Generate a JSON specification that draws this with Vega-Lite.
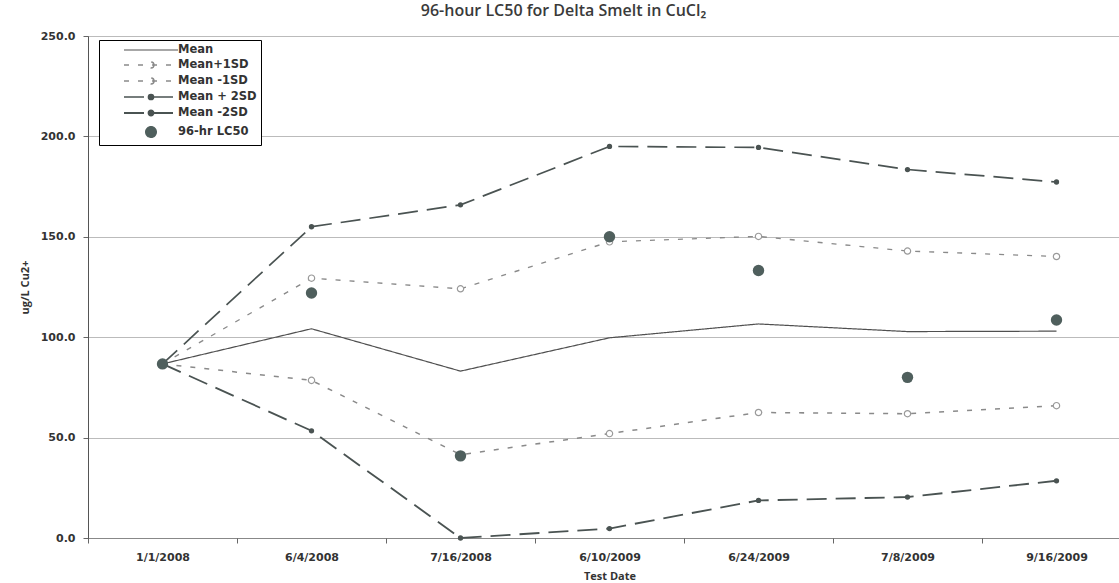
{
  "$schema": "https://vega.github.io/schema/vega-lite/v6.json",
  "width": 1043,
  "height": 502,
  "autosize": "none",
  "padding": {"left": 88, "top": 36, "right": 0, "bottom": 45},
  "background": "white",
  "title": {
    "text": "96-hour LC50 for Delta Smelt in CuCl₂",
    "font": "Open Sans",
    "fontSize": 16,
    "fontWeight": 600,
    "color": "#3a3a3a",
    "anchor": "middle",
    "dx": -46,
    "offset": 11
  },
  "config": {
    "view": {"stroke": null},
    "axis": {"labelColor": "#333", "titleColor": "#333"}
  },
  "data": {
    "values": [
      {"date": "1/1/2008", "series": "Mean", "value": 86.7},
      {"date": "6/4/2008", "series": "Mean", "value": 104.2},
      {"date": "7/16/2008", "series": "Mean", "value": 83.1},
      {"date": "6/10/2009", "series": "Mean", "value": 99.7},
      {"date": "6/24/2009", "series": "Mean", "value": 106.6},
      {"date": "7/8/2009", "series": "Mean", "value": 102.8},
      {"date": "9/16/2009", "series": "Mean", "value": 103.0},
      {"date": "1/1/2008", "series": "Mean+1SD", "value": 86.7},
      {"date": "6/4/2008", "series": "Mean+1SD", "value": 129.4},
      {"date": "7/16/2008", "series": "Mean+1SD", "value": 124.1},
      {"date": "6/10/2009", "series": "Mean+1SD", "value": 147.5},
      {"date": "6/24/2009", "series": "Mean+1SD", "value": 150.2},
      {"date": "7/8/2009", "series": "Mean+1SD", "value": 142.9},
      {"date": "9/16/2009", "series": "Mean+1SD", "value": 140.2},
      {"date": "1/1/2008", "series": "Mean -1SD", "value": 86.7},
      {"date": "6/4/2008", "series": "Mean -1SD", "value": 78.5},
      {"date": "7/16/2008", "series": "Mean -1SD", "value": 41.5},
      {"date": "6/10/2009", "series": "Mean -1SD", "value": 52.0},
      {"date": "6/24/2009", "series": "Mean -1SD", "value": 62.5},
      {"date": "7/8/2009", "series": "Mean -1SD", "value": 61.9},
      {"date": "9/16/2009", "series": "Mean -1SD", "value": 65.9},
      {"date": "1/1/2008", "series": "Mean + 2SD", "value": 86.7},
      {"date": "6/4/2008", "series": "Mean + 2SD", "value": 155.0},
      {"date": "7/16/2008", "series": "Mean + 2SD", "value": 165.9},
      {"date": "6/10/2009", "series": "Mean + 2SD", "value": 195.0},
      {"date": "6/24/2009", "series": "Mean + 2SD", "value": 194.5},
      {"date": "7/8/2009", "series": "Mean + 2SD", "value": 183.5},
      {"date": "9/16/2009", "series": "Mean + 2SD", "value": 177.3},
      {"date": "1/1/2008", "series": "Mean -2SD", "value": 86.7},
      {"date": "6/4/2008", "series": "Mean -2SD", "value": 53.4},
      {"date": "7/16/2008", "series": "Mean -2SD", "value": 0.0},
      {"date": "6/10/2009", "series": "Mean -2SD", "value": 4.7},
      {"date": "6/24/2009", "series": "Mean -2SD", "value": 18.7},
      {"date": "7/8/2009", "series": "Mean -2SD", "value": 20.4},
      {"date": "9/16/2009", "series": "Mean -2SD", "value": 28.5},
      {"date": "1/1/2008", "series": "96-hr LC50", "value": 86.7},
      {"date": "6/4/2008", "series": "96-hr LC50", "value": 122.0},
      {"date": "7/16/2008", "series": "96-hr LC50", "value": 40.9},
      {"date": "6/10/2009", "series": "96-hr LC50", "value": 150.0},
      {"date": "6/24/2009", "series": "96-hr LC50", "value": 133.2},
      {"date": "7/8/2009", "series": "96-hr LC50", "value": 80.0},
      {"date": "9/16/2009", "series": "96-hr LC50", "value": 108.6}
    ]
  },
  "encoding": {
    "x": {
      "field": "date",
      "type": "nominal",
      "sort": ["1/1/2008", "6/4/2008", "7/16/2008", "6/10/2009", "6/24/2009", "7/8/2009", "9/16/2009"],
      "scale": {"type": "band", "paddingInner": 0, "paddingOuter": 0},
      "axis": {
        "title": "Test Date",
        "titleFont": "Open Sans",
        "titleFontSize": 11,
        "titleFontWeight": "bold",
        "titlePadding": 8,
        "labelAngle": 0,
        "labelFont": "DejaVu Sans",
        "labelFontSize": 11,
        "labelFontWeight": "bold",
        "labelPadding": 8,
        "tickBand": "extent",
        "tickColor": "#666",
        "tickSize": 5,
        "domainColor": "#555",
        "domainDash": [1, 1],
        "grid": false
      }
    },
    "y": {
      "field": "value",
      "type": "quantitative",
      "scale": {"domain": [0, 250], "nice": false, "zero": true},
      "axis": {
        "title": "ug/L Cu2+",
        "titleFont": "Open Sans",
        "titleFontSize": 11,
        "titleFontWeight": "bold",
        "titlePadding": 10,
        "values": [0, 50, 100, 150, 200, 250],
        "format": ".1f",
        "labelFont": "DejaVu Sans",
        "labelFontSize": 11,
        "labelFontWeight": "bold",
        "labelPadding": 8,
        "tickColor": "#666",
        "tickSize": 5,
        "domainColor": "#555",
        "grid": true,
        "gridColor": "#777",
        "gridDash": [1, 1],
        "gridWidth": 1
      }
    }
  },
  "layer": [
    {
      "transform": [{"filter": "datum.series !== '96-hr LC50'"}],
      "mark": {"type": "line"},
      "encoding": {
        "detail": {"field": "series"},
        "color": {
          "field": "series",
          "type": "nominal",
          "scale": {
            "domain": ["Mean", "Mean+1SD", "Mean -1SD", "Mean + 2SD", "Mean -2SD", "96-hr LC50"],
            "range": ["#505050", "#8a8a8a", "#8a8a8a", "#4a5352", "#4a5352", "#4f5f5d"]
          },
          "legend": {
            "title": null,
            "orient": "none",
            "legendX": 11,
            "legendY": 4,
            "strokeColor": "black",
            "fillColor": "white",
            "padding": 4,
            "symbolOffset": 42,
            "symbolSize": 100,
            "labelFont": "DejaVu Sans",
            "labelFontSize": 11.5,
            "labelFontWeight": "bold",
            "labelColor": "#333",
            "labelOffset": 21,
            "rowPadding": 3,
            "encode": {
              "symbols": {
                "update": {
                  "shape": {"signal": "datum.label === '96-hr LC50' ? 'circle' : (datum.label === 'Mean' ? 'M-5.4,0H5.4' : (indexof(datum.label, '1SD') >= 0 ? 'M-5.4,0H5.4M0.6,0A0.6,0.6,0,1,1,-0.6,0A0.6,0.6,0,1,1,0.6,0' : 'M-5.4,0H5.4M0.5,0A0.5,0.5,0,1,1,-0.5,0A0.5,0.5,0,1,1,0.5,0'))"},
                  "size": {"value": 100},
                  "fill": {"signal": "datum.label === '96-hr LC50' ? '#4f5f5d' : (datum.label === 'Mean' ? 'transparent' : (indexof(datum.label, '1SD') >= 0 ? 'white' : '#4a5352'))"},
                  "strokeWidth": {"signal": "datum.label === '96-hr LC50' ? 0 : (datum.label === 'Mean' ? 1.2 : (indexof(datum.label, '2SD') >= 0 ? 2.8 : 2))"}
                }
              }
            }
          }
        },
        "strokeDash": {
          "field": "series",
          "type": "nominal",
          "scale": {
            "domain": ["Mean", "Mean+1SD", "Mean -1SD", "Mean + 2SD", "Mean -2SD", "96-hr LC50"],
            "range": [[1, 0], [5, 9], [5, 9], [20, 9], [20, 9], [1, 0]]
          }
        },
        "strokeWidth": {
          "field": "series",
          "type": "nominal",
          "scale": {
            "domain": ["Mean", "Mean+1SD", "Mean -1SD", "Mean + 2SD", "Mean -2SD", "96-hr LC50"],
            "range": [1.2, 2, 2, 2.8, 2.8, 0]
          },
          "legend": null
        }
      }
    },
    {
      "transform": [{"filter": "datum.series === 'Mean+1SD' || datum.series === 'Mean -1SD'"}],
      "mark": {"type": "point", "shape": "circle", "filled": false, "stroke": "#9a9a9a", "strokeWidth": 1.2, "fill": "white", "fillOpacity": 1, "size": 40}
    },
    {
      "transform": [{"filter": "datum.series === 'Mean + 2SD' || datum.series === 'Mean -2SD'"}],
      "mark": {"type": "point", "shape": "circle", "filled": true, "color": "#4a5352", "opacity": 1, "size": 28}
    },
    {
      "transform": [{"filter": "datum.series === '96-hr LC50'"}],
      "mark": {"type": "point", "shape": "circle", "filled": true, "color": "#4f5f5d", "opacity": 1, "size": 130}
    }
  ]
}
